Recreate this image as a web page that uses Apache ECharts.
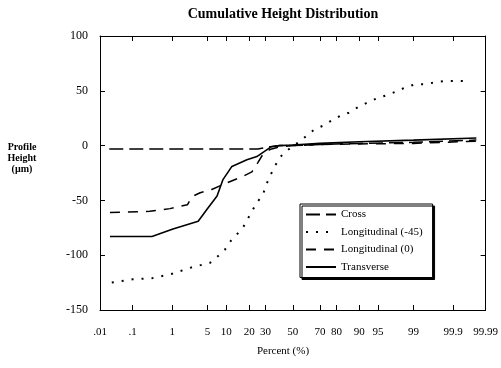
<!DOCTYPE html>
<html>
<head>
<meta charset="utf-8">
<script src="https://cdn.jsdelivr.net/npm/echarts@6/dist/echarts.min.js"></script>
<style>html,body{margin:0;padding:0;background:#fff}#c{width:501px;height:368px}</style>
</head>
<body>
<div id="c"></div>
<script>
// ---- data (x in percent, y in µm) ----
const tickPercents = [0.01, 0.1, 1, 5, 10, 20, 30, 50, 70, 80, 90, 95, 99, 99.9, 99.99];
const tickLabels = ['.01', '.1', '1', '5', '10', '20', '30', '50', '70', '80', '90', '95', '99', '99.9', '99.99'];
const yTicks = [-150, -100, -50, 0, 50, 100];

const crossPct = [0.02, 1, 10, 25, 33, 40, 50, 70, 90, 99, 99.98];
const crossVal = [-3, -3, -3, -3, -1, 0, 0, 1, 2, 3, 5];

const long45Pct = [0.024, 0.10, 0.33, 0.99, 2.6, 5.5, 7.4, 9.5, 11.2, 16.8, 21.5, 24.4, 28.2, 30, 32.9, 36.4, 40, 43.9, 55.4, 60.6, 66.4, 71.8, 77.4, 81.8, 86, 89.5, 92.3, 94.7, 96.5, 97.6, 98.5, 99.1, 99.48, 99.72, 99.85, 99.92, 99.96];
const long45Val = [-125, -122, -121, -117, -111, -107, -101, -95, -88, -75, -60, -52, -45, -37, -28, -19, -11, -6, 4, 9, 15, 18, 23, 27, 30, 35, 39, 43, 46, 49, 53, 56, 56, 58, 59, 59, 59];

const long0Pct = [0.021, 0.29, 0.89, 2.1, 2.6, 3.7, 5.9, 10.2, 16.8, 21.5, 25, 28.2, 32.9, 40, 50, 70, 90, 99, 99.98];
const long0Val = [-61, -60, -57.5, -54, -46.5, -43, -40, -34, -28, -24, -15.5, -8, -3.6, -1, 0, 1, 1.5, 2, 4];

const transPct = [0.021, 0.33, 1.04, 3.4, 4.9, 7.2, 8.9, 12, 18.8, 24.4, 29.5, 34, 40, 50, 70, 90, 99, 99.98];
const transVal = [-83, -83, -76, -69, -58, -46, -31, -19, -13, -10, -5, -1, 0, 0.5, 2, 3.5, 5, 7];

// ---- normal probability scale ----
function probit(p) {
  const a = [-3.969683028665376e+01, 2.209460984245205e+02, -2.759285104469687e+02, 1.383577518672690e+02, -3.066479806614716e+01, 2.506628277459239e+00];
  const b = [-5.447609879822406e+01, 1.615858368580409e+02, -1.556989798598866e+02, 6.680131188771972e+01, -1.328068155288572e+01];
  const c = [-7.784894002430293e-03, -3.223964580411365e-01, -2.400758277161838e+00, -2.549732539343734e+00, 4.374664141464968e+00, 2.938163982698783e+00];
  const d = [7.784695709041462e-03, 3.224671290700398e-01, 2.445134137142996e+00, 3.754408661907416e+00];
  const plow = 0.02425, phigh = 1 - plow;
  let q, r;
  if (p < plow) {
    q = Math.sqrt(-2 * Math.log(p));
    return (((((c[0]*q+c[1])*q+c[2])*q+c[3])*q+c[4])*q+c[5]) / ((((d[0]*q+d[1])*q+d[2])*q+d[3])*q+1);
  }
  if (p <= phigh) {
    q = p - 0.5; r = q * q;
    return (((((a[0]*r+a[1])*r+a[2])*r+a[3])*r+a[4])*r+a[5])*q / (((((b[0]*r+b[1])*r+b[2])*r+b[3])*r+b[4])*r+1);
  }
  q = Math.sqrt(-2 * Math.log(1 - p));
  return -(((((c[0]*q+c[1])*q+c[2])*q+c[3])*q+c[4])*q+c[5]) / ((((d[0]*q+d[1])*q+d[2])*q+d[3])*q+1);
}
const z = pct => probit(pct / 100);
const tickZ = tickPercents.map(z);
const xMin = z(tickPercents[0]);
const xMax = z(tickPercents[tickPercents.length - 1]);
const pairs = (ps, vs) => ps.map((p, i) => [z(p), vs[i]]);
function labelFor(v) {
  let best = 0, bd = Infinity;
  tickZ.forEach((t, i) => { const dd = Math.abs(t - v); if (dd < bd) { bd = dd; best = i; } });
  return tickLabels[best];
}

const FONT = 'Liberation Serif';
const chart = echarts.init(document.getElementById('c'), null, { renderer: 'canvas' });

const xAxisBase = {
  type: 'value', min: xMin, max: xMax,
  splitLine: { show: false },
  axisLine: { show: true, onZero: false, lineStyle: { color: '#000', width: 1 } },
  axisTick: { show: true, inside: true, length: 5, customValues: tickZ, lineStyle: { color: '#000' } }
};
const yAxisBase = {
  type: 'value', min: -150, max: 100, interval: 50,
  splitLine: { show: false },
  axisLine: { show: true, onZero: false, lineStyle: { color: '#000', width: 1 } },
  axisTick: { show: true, inside: true, length: 5, lineStyle: { color: '#000' } }
};

const option = {
  backgroundColor: '#fff',
  animation: false,
  grid: { left: 100, right: 15, top: 36, bottom: 58, containLabel: false },
  xAxis: [
    Object.assign({}, xAxisBase, {
      position: 'bottom',
      axisLabel: {
        show: true, customValues: tickZ, margin: 17, color: '#000',
        fontFamily: FONT, fontSize: 11, formatter: v => labelFor(v)
      }
    }),
    Object.assign({}, xAxisBase, { position: 'top', axisLabel: { show: false } })
  ],
  yAxis: [
    Object.assign({}, yAxisBase, {
      position: 'left',
      axisLabel: { show: true, margin: 12, color: '#000', fontFamily: FONT, fontSize: 12 }
    }),
    Object.assign({}, yAxisBase, { position: 'right', axisLabel: { show: false } })
  ],
  legend: {
    orient: 'vertical', left: 300, top: 204,
    padding: [4, 10, 4, 5], itemGap: 4.5, itemWidth: 30, itemHeight: 10, itemTextGap: 3,
    backgroundColor: '#fff', borderColor: '#000', borderWidth: 1,
    shadowColor: '#000', shadowOffsetX: 2, shadowOffsetY: 2, shadowBlur: 0,
    itemStyle: { opacity: 0 },
    textStyle: { fontFamily: FONT, fontSize: 11, color: '#000', lineHeight: 13 },
    data: ['Cross', 'Longitudinal (-45)', 'Longitudinal (0)', 'Transverse']
  },
  series: [
    { name: 'Cross', type: 'line', data: pairs(crossPct, crossVal), showSymbol: false, symbol: 'none',
      lineStyle: { color: '#000', width: 1.5, type: [14, 6] }, itemStyle: { color: '#000' } },
    { name: 'Longitudinal (-45)', type: 'line', data: pairs(long45Pct, long45Val), showSymbol: false, symbol: 'none',
      lineStyle: { color: '#000', width: 2, type: [2, 8] }, itemStyle: { color: '#000' } },
    { name: 'Longitudinal (0)', type: 'line', data: pairs(long0Pct, long0Val), showSymbol: false, symbol: 'none',
      lineStyle: { color: '#000', width: 1.5, type: [10, 8] }, itemStyle: { color: '#000' } },
    { name: 'Transverse', type: 'line', data: pairs(transPct, transVal), showSymbol: false, symbol: 'none',
      lineStyle: { color: '#000', width: 1.6, type: 'solid' }, itemStyle: { color: '#000' } }
  ],
  graphic: [
    { type: 'text', x: 283, y: 7, style: { text: 'Cumulative Height Distribution', font: 'bold 14px "Liberation Serif"', fill: '#000', textAlign: 'center' } },
    { type: 'text', x: 283, y: 346, style: { text: 'Percent (%)', font: '11px "Liberation Serif"', fill: '#000', textAlign: 'center' } },
    { type: 'text', x: 22, y: 142, style: { text: 'Profile\nHeight\n(µm)', font: 'bold 10px "Liberation Serif"', lineHeight: 11, fill: '#000', textAlign: 'center' } }
  ]
};
chart.setOption(option);
</script>
</body>
</html>
